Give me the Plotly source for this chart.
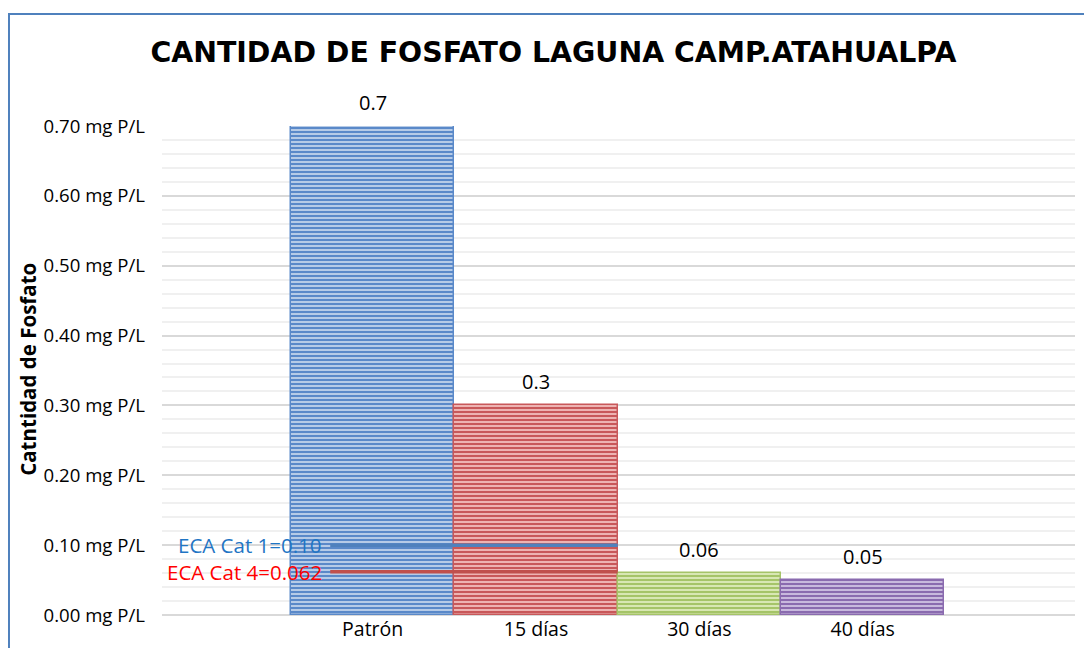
import plotly.graph_objects as go

# ---- data ----
categories = ["Patrón", "15 días", "30 días", "40 días"]
values = [0.7, 0.3, 0.06, 0.05]
y_ticks = [0.0, 0.1, 0.2, 0.3, 0.4, 0.5, 0.6, 0.7]
y_ticktext = [f"{v:.2f} mg P/L" for v in y_ticks]
eca_labels = ["ECA Cat 1=0.10", "ECA Cat 4=0.062"]
eca_levels = [0.10, 0.062]

# ---- styles ----
dark_cols = ["#5A89C9", "#C8585A", "#A5C468", "#8A6BAF"]
light_cols = ["#B6CBE7", "#EDB3B2", "#D8E7B3", "#C8B9DD"]
eca_line_cols = ["#4F81BD", "#C0504D"]
eca_text_cols = ["#1F75C4", "#FF0000"]
FONT = "Open Sans"

x_pos = list(range(len(categories)))

fig = go.Figure()

for i, (cat, v) in enumerate(zip(categories, values)):
    fig.add_trace(go.Bar(
        x=[x_pos[i]], y=[v], width=1.0, name=cat,
        marker=dict(
            color=dark_cols[i],
            line=dict(color=dark_cols[i], width=1.5),
            pattern=dict(shape="-", fillmode="replace", bgcolor=light_cols[i],
                         fgcolor=dark_cols[i], size=4, solidity=0.5),
        ),
        showlegend=False, hoverinfo="skip",
    ))

# ECA reference lines (start left of first bar, end at the right edge of 2nd bar)
eca_x0 = -0.26
eca_x1 = x_pos[1] + 0.5
for lab, lvl, lc, tc in zip(eca_labels, eca_levels, eca_line_cols, eca_text_cols):
    fig.add_trace(go.Scatter(
        x=[eca_x0, eca_x1], y=[lvl, lvl], mode="lines",
        line=dict(color=lc, width=3.5), showlegend=False, hoverinfo="skip",
    ))
    fig.add_annotation(
        x=eca_x0, y=lvl, xref="x", yref="y", text=lab, showarrow=False,
        xanchor="right", yanchor="middle", xshift=-6,
        font=dict(family=FONT, size=20.5, color=tc),
    )

# value labels
for i, v in enumerate(values):
    fig.add_annotation(
        x=x_pos[i], y=v, xref="x", yref="y", text=str(v), showarrow=False,
        xanchor="center", yanchor="middle", yshift=24,
        font=dict(family=FONT, size=20, color="#000000"),
    )

# y-axis title
fig.add_annotation(
    x=-0.147, y=0.503, xref="paper", yref="paper", text="<b>Catntidad de Fosfato</b>",
    showarrow=False, textangle=-90, xanchor="center", yanchor="middle",
    font=dict(family=FONT, size=20.5, color="#000000"),
)

# chart frame (blue border)
fig.add_shape(type="rect", xref="paper", yref="paper",
              x0=-0.1676, x1=1.05, y0=-0.2, y1=1.229,
              line=dict(color="#4F81BD", width=2), fillcolor="rgba(0,0,0,0)", layer="below")

fig.update_layout(
    width=1092, height=648,
    margin=dict(l=154, r=25, t=118, b=41, autoexpand=False),
    paper_bgcolor="white", plot_bgcolor="white",
    bargap=0,
    title=dict(
        text="<b>CANTIDAD DE FOSFATO LAGUNA CAMP.ATAHUALPA</b>",
        x=0.4995, xref="container", xanchor="center",
        y=1 - 44 / 648, yref="container", yanchor="middle",
        font=dict(family="DejaVu Sans", size=28.4, color="#000000"),
    ),
    xaxis=dict(
        range=[-1.29, 4.30], tickvals=x_pos, ticktext=categories,
        showgrid=False, zeroline=False, showline=False, ticks="",
        tickfont=dict(family=FONT, size=19.5, color="#000000"),
        automargin=False, fixedrange=True,
    ),
    yaxis=dict(
        range=[0, 0.7], tickvals=y_ticks, ticktext=y_ticktext,
        showgrid=True, gridcolor="#D9D9D9", gridwidth=2,
        zeroline=True, zerolinecolor="#D9D9D9", zerolinewidth=2,
        showline=False, ticks="", ticklabelstandoff=16,
        tickfont=dict(family=FONT, size=18.6, color="#000000"),
        minor=dict(dtick=0.02, tick0=0, showgrid=True, gridcolor="#F0F0F0", gridwidth=2),
        automargin=False, fixedrange=True,
    ),
)

fig.write_html("out.html")
